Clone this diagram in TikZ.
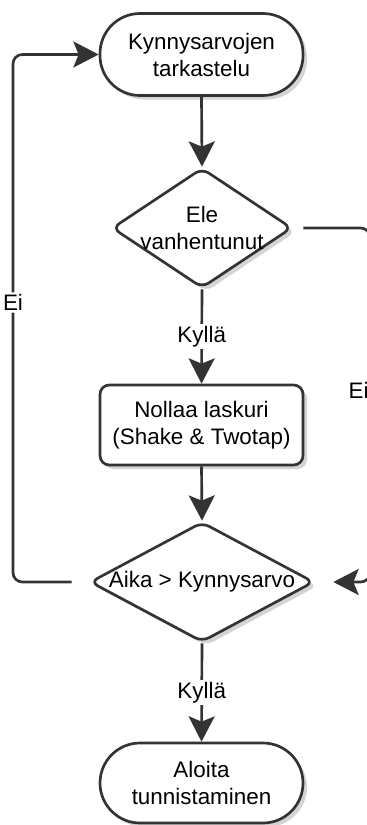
\documentclass[tikz,border=0pt]{standalone}
\usepackage{fontspec}
\setmainfont{Liberation Sans}
\usetikzlibrary{arrows.meta,shapes.geometric,shadows}
\definecolor{ln}{HTML}{333333}
\definecolor{shd}{HTML}{D4D4D4}
\begin{document}
\begin{tikzpicture}[x=0.75pt,y=-0.75pt,
  every node/.style={font=\fontsize{16.8}{20.25}\selectfont, text=black, align=center},
  base/.style={draw=ln, line width=2pt, fill=white,
    general shadow={fill=shd, shadow xshift=3pt, shadow yshift=-3pt}, inner sep=0pt},
  term/.style={base, rectangle, rounded corners=30pt, minimum width=152.25pt, minimum height=61.5pt},
  proc/.style={base, rectangle, rounded corners=7pt, minimum width=152.25pt, minimum height=60pt},
  dec/.style={base, diamond, rounded corners=6pt},
  conn/.style={draw=ln, line width=2pt, rounded corners=7pt,
    -{Stealth[length=19pt,width=19.5pt,inset=4pt]}},
  lbl/.style={fill=white, inner sep=1.5pt}
]
\useasboundingbox (0,0) rectangle (367,825);

\node[term] (t1) at (201.5,54.5) {Kynnysarvojen\\tarkastelu};
\node[dec, minimum width=135pt, minimum height=90pt] (d1) at (202,228) {};
\node (d1t) at (d1.center) {Ele\\vanhentunut};
\node[proc] (b1) at (201.5,425) {Nollaa laskuri\\(Shake \& Twotap)};
\node[dec, minimum width=168pt, minimum height=90pt] (d2) at (202,582) {};
\node (d2t) at (d2.center) {Aika > Kynnysarvo};
\node[term, minimum height=60pt] (t2) at (201.5,783) {Aloita\\tunnistaminen};

\draw[conn] (t1.south) -- (d1.north);
\draw[conn] (d1.south) -- node[lbl]{Kyllä} (b1.north);
\draw[conn] (b1.south) -- (d2.north);
\draw[conn] (d2.south) -- node[lbl]{Kyllä} (t2.north);

\coordinate (ls) at ([xshift=-12.75pt]d2.west);
\coordinate (lx) at (13,0);
\draw[conn] (ls) -- (ls -| lx) -- node[lbl, pos=0.53]{Ei} (t1.west -| lx) -- (t1.west);

\coordinate (rs) at ([xshift=7.5pt]d1.east);
\coordinate (rx) at (370,0);
\coordinate (re) at ([xshift=13.5pt]d2.east);
\draw[conn] (rs) -- (rs -| rx) -- node[lbl, pos=0.46, xshift=-8.5pt]{Ei} (re -| rx) -- (re);
\end{tikzpicture}
\end{document}
